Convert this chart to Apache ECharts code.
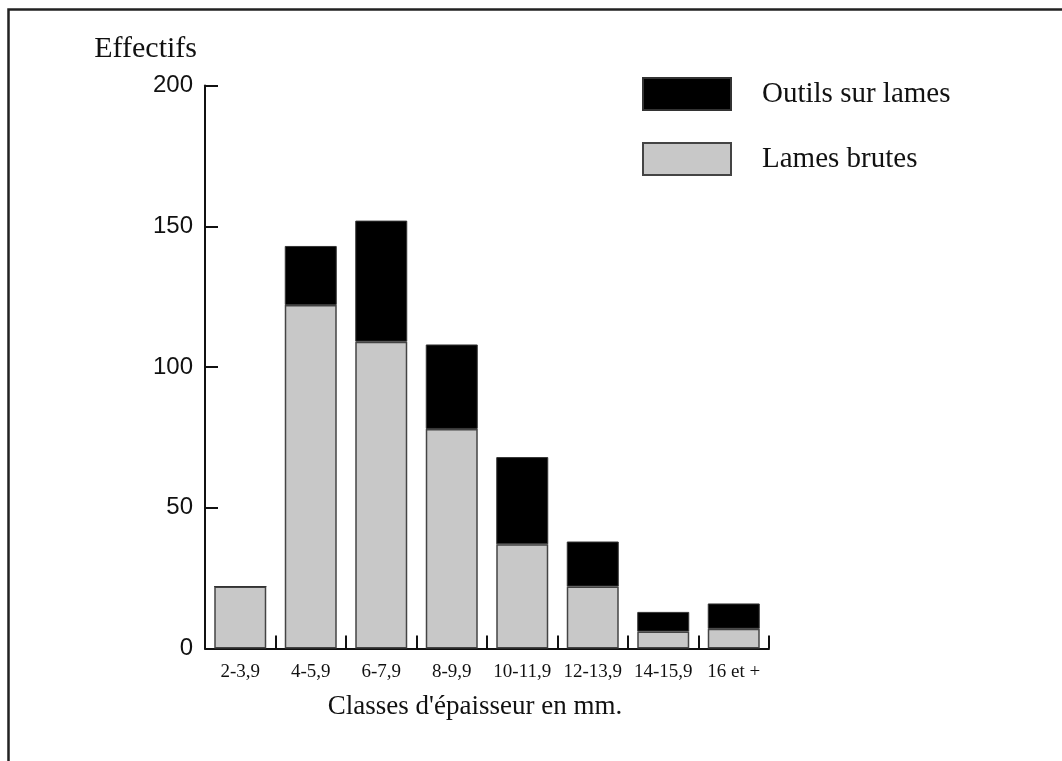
<!DOCTYPE html>
<html>
<head>
<meta charset="utf-8">
<script src="https://cdn.jsdelivr.net/npm/echarts@6/dist/echarts.min.js"></script>
<style>
html,body{margin:0;padding:0;background:#fff;}
#chart{width:1062px;height:761px;}
</style>
</head>
<body>
<div id="chart"></div>
<script>
var categories = ['2-3,9','4-5,9','6-7,9','8-9,9','10-11,9','12-13,9','14-15,9','16 et +'];
var lamesBrutes = [22,122,109,78,37,22,6,7];
var outilsSurLames = [0,21,43,30,31,16,7,9];
var yTicks = [0,50,100,150,200];

var serif = '"Liberation Serif","Times New Roman",serif';
var sans = '"Liberation Sans",Arial,sans-serif';
var ink = '#111';

var chart = echarts.init(document.getElementById('chart'), null, {renderer:'canvas'});
chart.setOption({
  backgroundColor:'#fff',
  animation:false,
  graphic:[{
    type:'polyline',
    shape:{points:[[8.5,761],[8.5,9.5],[1062,9.5]]},
    style:{stroke:'#222',lineWidth:2.5,fill:null}
  }],
  legend:{
    orient:'vertical',
    left:642, top:77,
    padding:0,
    icon:'rect',
    itemWidth:88, itemHeight:32, itemGap:31,
    data:['Outils sur lames','Lames brutes'],
    textStyle:{fontFamily:serif,fontSize:29,color:ink,padding:[0,0,0,26]}
  },
  grid:{left:205, top:85.5, right:293, bottom:112.5, containLabel:false},
  xAxis:{
    type:'category',
    data:categories,
    boundaryGap:true,
    name:"Classes d'épaisseur en mm.",
    nameLocation:'middle',
    nameGap:45,
    nameTextStyle:{fontFamily:serif,fontSize:27,color:ink,padding:[0,24,0,0]},
    axisLine:{show:true,lineStyle:{color:ink,width:2}},
    axisTick:{show:true,inside:true,alignWithLabel:false,interval:0,length:13,lineStyle:{color:ink,width:2}},
    axisLabel:{fontFamily:serif,fontSize:19,color:ink,margin:14,interval:0},
    splitLine:{show:false}
  },
  yAxis:{
    type:'value',
    min:yTicks[0], max:yTicks[yTicks.length-1], interval:50,
    name:'Effectifs',
    nameLocation:'end',
    nameGap:36,
    nameTextStyle:{fontFamily:serif,fontSize:30,color:ink,align:'right',verticalAlign:'middle',padding:[0,8,0,0]},
    axisLine:{show:true,lineStyle:{color:ink,width:2}},
    axisTick:{show:true,inside:true,length:13,lineStyle:{color:ink,width:2}},
    axisLabel:{fontFamily:sans,fontSize:24,color:ink,margin:12},
    splitLine:{show:false}
  },
  series:[
    {
      name:'Lames brutes',
      type:'bar',
      stack:'total',
      barWidth:52,
      data:lamesBrutes,
      itemStyle:{color:'#c8c8c8',borderColor:'#444',borderWidth:1.5}
    },
    {
      name:'Outils sur lames',
      type:'bar',
      stack:'total',
      barWidth:52,
      data:outilsSurLames,
      itemStyle:{color:'#000',borderColor:'#333',borderWidth:1}
    }
  ]
});
</script>
</body>
</html>
